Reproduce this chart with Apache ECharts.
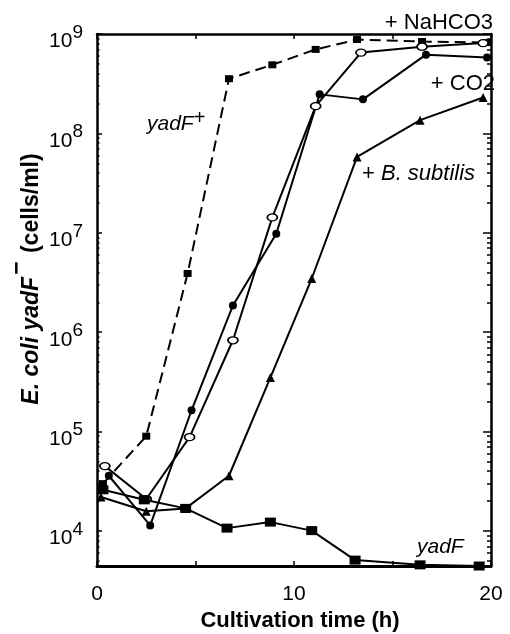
<!DOCTYPE html>
<html>
<head>
<meta charset="utf-8">
<script src="https://cdn.jsdelivr.net/npm/echarts@6/dist/echarts.min.js"></script>
<style>
html,body{margin:0;padding:0;background:#fff;}
#chart{width:510px;height:634px;}
</style>
</head>
<body>
<div id="chart"></div>
<script>
// ---- data ----
const timeYadFPlus = [0.3, 2.5, 4.6, 6.7, 8.9, 11.1, 13.2, 16.5, 19.8];
const valYadFPlus  = [3.0e4, 9.0e4, 3.9e6, 3.55e8, 4.9e8, 7.0e8, 8.8e8, 8.4e8, 8.2e8];

const timeNaHCO3 = [0.4, 2.5, 4.7, 6.9, 8.9, 11.1, 13.4, 16.5, 19.6];
const valNaHCO3  = [4.5e4, 2.1e4, 8.8e4, 8.3e5, 1.43e7, 1.88e8, 6.5e8, 7.45e8, 8.1e8];

const timeCO2 = [0.6, 2.7, 4.8, 6.9, 9.1, 11.3, 13.5, 16.7, 19.8];
const valCO2  = [3.6e4, 1.14e4, 1.64e5, 1.86e6, 9.8e6, 2.47e8, 2.2e8, 6.2e8, 5.8e8];

const timeBsub = [0.2, 2.5, 4.5, 6.7, 8.8, 10.9, 13.2, 16.4, 19.6];
const valBsub  = [2.2e4, 1.58e4, 1.69e4, 3.6e4, 3.5e5, 3.47e6, 5.8e7, 1.36e8, 2.3e8];

const timeYadFMinus = [0.3, 2.4, 4.5, 6.6, 8.8, 10.9, 13.1, 16.4, 19.4];
const valYadFMinus  = [2.6e4, 2.06e4, 1.69e4, 1.07e4, 1.23e4, 1.01e4, 5.1e3, 4.57e3, 4.45e3];

const yMajorTicks = [1e4, 1e5, 1e6, 1e7, 1e8, 1e9];
const xLabelValues = [0, 10, 20];
const yMin = 4450, yMax = 1e9;

// ---- helpers ----
function pairs(xs, ys) { return xs.map((x, i) => [x, ys[i]]); }
const yMinorTicks = [];
for (let d = 3; d <= 8; d++) {
  for (let k = 2; k <= 9; k++) {
    const v = k * Math.pow(10, d);
    if (v >= yMin && v <= yMax) yMinorTicks.push(v);
  }
}
const FONT = 'Liberation Sans, Arial, Helvetica, sans-serif';
const BLACK = '#000';

const chart = echarts.init(document.getElementById('chart'), null, {renderer: 'canvas'});

function logAxis(pos, ticks, len, showLine, showLabel) {
  return {
    type: 'log', logBase: 10, min: yMin, max: yMax, position: pos,
    axisLine: {show: showLine, lineStyle: {color: BLACK, width: 2.5}},
    axisTick: {show: true, inside: true, length: len, customValues: ticks,
               lineStyle: {color: BLACK, width: 1.5}},
    minorTick: {show: false},
    splitLine: {show: false},
    axisLabel: showLabel ? {
      show: true, customValues: yMajorTicks, margin: 14, padding: [15, 0, 0, 0],
      color: BLACK, fontFamily: FONT,
      formatter: function (v) {
        const e = Math.round(Math.log10(v));
        return '{b|10}{s|' + e + '}';
      },
      rich: {
        b: {fontSize: 21, lineHeight: 21, fontFamily: FONT, color: BLACK, verticalAlign: 'bottom'},
        s: {fontSize: 19, lineHeight: 21, fontFamily: FONT, color: BLACK, verticalAlign: 'bottom', padding: [0, 0, 10, 0]}
      }
    } : {show: false}
  };
}

const option = {
  backgroundColor: '#fff',
  animation: false,
  grid: {left: 97, right: 19, top: 34, bottom: 68},
  xAxis: [
    {
      type: 'value', position: 'bottom', min: 0, max: 20, interval: 5,
      axisLine: {lineStyle: {color: BLACK, width: 3}},
      axisTick: {inside: true, length: 5, lineStyle: {color: BLACK, width: 1.5}},
      splitLine: {show: false},
      axisLabel: {
        color: BLACK, fontSize: 21, fontFamily: FONT, margin: 18,
        formatter: function (v) { return xLabelValues.indexOf(v) >= 0 ? String(v) : ''; }
      }
    },
    {
      type: 'value', position: 'top', min: 0, max: 20, interval: 5,
      axisLine: {lineStyle: {color: BLACK, width: 2.5}},
      axisTick: {inside: true, length: 5, lineStyle: {color: BLACK, width: 1.5}},
      splitLine: {show: false},
      axisLabel: {show: false}
    }
  ],
  yAxis: [
    logAxis('left', yMajorTicks, 5, true, true),
    logAxis('left', yMinorTicks, 2.5, false, false),
    logAxis('right', yMajorTicks, 8, true, false),
    logAxis('right', yMinorTicks, 4, false, false)
  ],
  series: [
    {
      name: 'yadF+', type: 'line', xAxisIndex: 0, yAxisIndex: 0,
      data: pairs(timeYadFPlus, valYadFPlus),
      symbol: 'rect', symbolSize: [8, 7], showAllSymbol: true,
      lineStyle: {color: BLACK, width: 2, type: [11, 6]},
      itemStyle: {color: BLACK}
    },
    {
      name: '+ NaHCO3', type: 'line', xAxisIndex: 0, yAxisIndex: 0,
      data: pairs(timeNaHCO3, valNaHCO3),
      symbol: 'path://M0,5A10,5 0 1,0 20,5A10,5 0 1,0 0,5Z', symbolSize: [10, 7],
      lineStyle: {color: BLACK, width: 2},
      itemStyle: {color: '#fff', borderColor: BLACK, borderWidth: 1.5},
      z: 3
    },
    {
      name: '+ CO2', type: 'line', xAxisIndex: 0, yAxisIndex: 0,
      data: pairs(timeCO2, valCO2),
      symbol: 'circle', symbolSize: [8, 8],
      lineStyle: {color: BLACK, width: 2},
      itemStyle: {color: BLACK}
    },
    {
      name: '+ B. subtilis', type: 'line', xAxisIndex: 0, yAxisIndex: 0,
      data: pairs(timeBsub, valBsub),
      symbol: 'triangle', symbolSize: 9,
      lineStyle: {color: BLACK, width: 2},
      itemStyle: {color: BLACK}
    },
    {
      name: 'yadF-', type: 'line', xAxisIndex: 0, yAxisIndex: 0,
      data: pairs(timeYadFMinus, valYadFMinus),
      symbol: 'rect', symbolSize: [11, 9],
      lineStyle: {color: BLACK, width: 2},
      itemStyle: {color: BLACK}
    }
  ],
  graphic: [
    {type: 'text', x: 493, y: 23, z: 10, style: {text: '+ NaHCO3', font: '22px ' + FONT, fill: BLACK, align: 'right', verticalAlign: 'middle'}},
    {type: 'text', x: 495, y: 84, z: 10, style: {text: '+ CO2', font: '22px ' + FONT, fill: BLACK, align: 'right', verticalAlign: 'middle'}},
    {type: 'text', x: 362, y: 174, z: 10, style: {
      text: '+ {i|B. subtilis}', font: '22px ' + FONT, fill: BLACK, align: 'left', verticalAlign: 'middle',
      rich: {i: {fontStyle: 'italic', fontSize: 22, fontFamily: FONT, color: BLACK}}
    }},
    {type: 'text', x: 147, y: 124, z: 10, style: {
      text: '{i|yadF}{s|+}', fill: BLACK, align: 'left', verticalAlign: 'middle',
      rich: {
        i: {fontStyle: 'italic', fontSize: 21, lineHeight: 21, fontFamily: FONT, color: BLACK, verticalAlign: 'bottom'},
        s: {fontSize: 20, lineHeight: 21, fontFamily: FONT, color: BLACK, verticalAlign: 'bottom', padding: [0, 0, 6, 0]}
      }
    }},
    {type: 'text', x: 417, y: 547, z: 10, style: {text: 'yadF', font: 'italic 21px ' + FONT, fill: BLACK, align: 'left', verticalAlign: 'middle'}},
    {type: 'text', x: 300, y: 621, z: 10, style: {text: 'Cultivation time (h)', font: 'bold 22px ' + FONT, fill: BLACK, align: 'center', verticalAlign: 'middle'}},
    {type: 'text', x: 31, y: 279, rotation: Math.PI / 2, z: 10, style: {
      text: '{bi|E. coli yadF}{s|−}{b| (cells/ml)}', fill: BLACK, align: 'center', verticalAlign: 'middle',
      rich: {
        bi: {fontStyle: 'italic', fontWeight: 'bold', fontSize: 23, lineHeight: 24, fontFamily: FONT, color: BLACK, verticalAlign: 'bottom'},
        s: {fontWeight: 'bold', fontSize: 23, lineHeight: 24, fontFamily: FONT, color: BLACK, verticalAlign: 'bottom', padding: [0, 2, 14, 2]},
        b: {fontWeight: 'bold', fontSize: 23, lineHeight: 24, fontFamily: FONT, color: BLACK, verticalAlign: 'bottom'}
      }
    }}
  ]
};
chart.setOption(option);
</script>
</body>
</html>
